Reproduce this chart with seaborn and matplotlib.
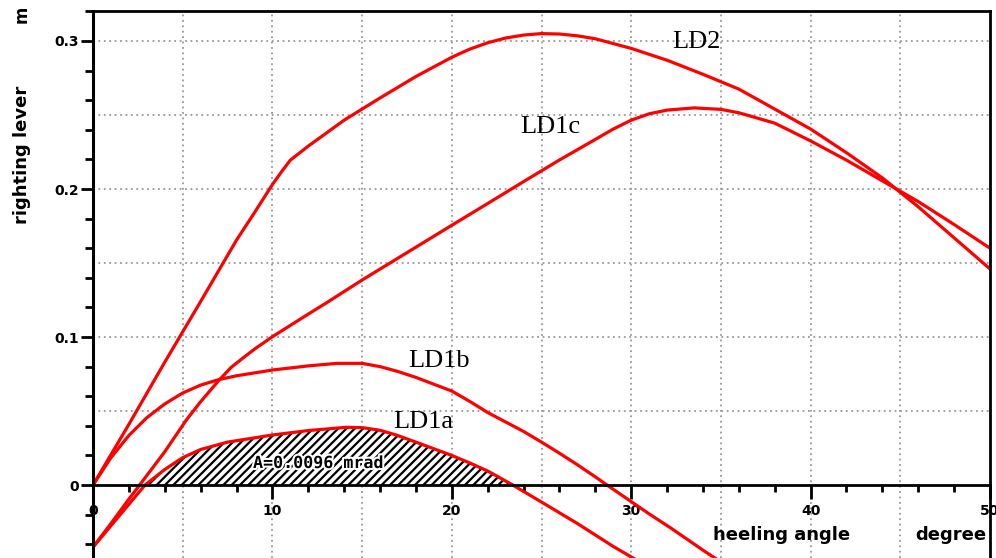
import numpy as np
import pandas as pd
import seaborn as sns
import matplotlib.pyplot as plt
import matplotlib.ticker as mticker
import matplotlib.patheffects as pe

# righting lever curves (heeling angle in degree, lever in m)
ld2_angle = [0, 2, 4, 6, 8, 9, 10, 10.5, 11, 12, 14, 16, 18, 20, 21, 22, 23, 24,
             25, 26, 27, 28, 30, 32, 34, 36, 38, 40, 42, 44, 46, 48, 50]
ld2_lever = [0, 0.041, 0.083, 0.124, 0.1655, 0.184, 0.203, 0.2115, 0.2195, 0.229,
             0.2465, 0.2615, 0.276, 0.289, 0.2945, 0.2988, 0.302, 0.304, 0.305,
             0.3047, 0.3035, 0.3015, 0.295, 0.287, 0.2775, 0.2675, 0.254, 0.2405,
             0.2245, 0.2075, 0.188, 0.167, 0.146]

ld1c_angle = [0, 1, 2, 2.6, 4, 5.2, 6, 7, 7.7, 8.4, 9, 10, 12, 13, 15, 18, 20, 22,
              24, 26, 28, 29, 30, 31, 32, 33.5, 35, 36, 38, 40, 42, 44, 46, 48, 50]
ld1c_lever = [-0.042, -0.026, -0.0095, 0, 0.0225, 0.0439, 0.0563, 0.0705, 0.0795,
              0.0862, 0.0918, 0.1002, 0.1155, 0.123, 0.1385, 0.1607, 0.1755, 0.1902,
              0.205, 0.2196, 0.2335, 0.2405, 0.2465, 0.2508, 0.2533, 0.2548, 0.2538,
              0.2515, 0.2445, 0.2325, 0.2195, 0.2055, 0.1915, 0.176, 0.160]

ld1b_angle = [0, 1, 2, 3, 4, 5, 6, 7, 8, 10, 12, 13.6, 15, 16, 17, 18, 20, 21, 22,
              24, 25, 26, 27, 28, 28.65, 30, 31, 32.2, 34, 35]
ld1b_lever = [0, 0.0185, 0.0335, 0.0455, 0.0548, 0.0622, 0.0675, 0.0712, 0.0738,
              0.0777, 0.0805, 0.0822, 0.0822, 0.080, 0.0767, 0.0727, 0.0635, 0.0565,
              0.049, 0.0362, 0.029, 0.0215, 0.0137, 0.0055, 0, -0.0112, -0.0195,
              -0.029, -0.044, -0.052]

ld1a_angle = [0, 1, 2, 2.9, 4, 5, 6, 7.5, 10, 12, 14.1, 15, 16, 16.9, 18, 19, 20,
              21, 22, 23.4, 25, 27, 29, 30.2]
ld1a_lever = [-0.042, -0.0275, -0.013, 0, 0.0105, 0.0185, 0.024, 0.029, 0.0338,
              0.0368, 0.039, 0.0388, 0.037, 0.0338, 0.029, 0.0245, 0.020, 0.0149,
              0.0095, 0, -0.0115, -0.026, -0.0415, -0.050]

curve_names = ['LD2', 'LD1c', 'LD1b', 'LD1a']
curve_label_pos = [(32.3, 0.2953), (23.8, 0.2378), (17.56, 0.0797), (16.72, 0.0385)]
area_text = 'A=0.0096 mrad'

x_major = [0, 10, 20, 30, 40, 50]
y_major = [0, 0.1, 0.2, 0.3]
y_labels = ['0', '0.1', '0.2', '0.3']

frames = []
for name, a, l in zip(curve_names,
                      [ld2_angle, ld1c_angle, ld1b_angle, ld1a_angle],
                      [ld2_lever, ld1c_lever, ld1b_lever, ld1a_lever]):
    frames.append(pd.DataFrame({'angle': a, 'lever': l, 'curve': name}))
df = pd.concat(frames, ignore_index=True)

sns.set_style('white')
plt.rcParams['font.family'] = ['DejaVu Sans']
plt.rcParams['text.color'] = 'black'
plt.rcParams['xtick.color'] = 'black'
plt.rcParams['ytick.color'] = 'black'
plt.rcParams['hatch.linewidth'] = 1.6

fig = plt.figure(figsize=(9.96, 5.58), dpi=100)
ax = fig.add_axes([93 / 996, 0, 897 / 996, 0.9796])

# grid (dotted grey)
for gx in np.arange(5, 50, 5):
    ax.axvline(gx, color='#999999', ls=(0, (1, 2)), lw=1.3, zorder=0.5)
for gy in np.arange(0.05, 0.32, 0.05):
    ax.axhline(gy, color='#999999', ls=(0, (1, 2)), lw=1.3, zorder=0.5)

# hatched area under LD1a
a1 = np.array(ld1a_angle)
l1 = np.array(ld1a_lever)
ax.fill_between(a1, 0, l1, where=l1 >= 0, interpolate=True, facecolor='white',
                edgecolor='black', hatch='////', linewidth=0, zorder=1)

sns.lineplot(data=df, x='angle', y='lever', units='curve', estimator=None,
             color='#ff0000', lw=2.3, ax=ax, zorder=2, legend=False)

for name, (tx, ty) in zip(curve_names, curve_label_pos):
    ax.text(tx, ty, name, family='Liberation Serif', fontsize=19,
            ha='left', va='baseline', zorder=3)

ax.text(8.92, 0.0115, area_text, family='DejaVu Sans Mono', fontweight='bold',
        fontsize=12, ha='left', va='baseline', zorder=3,
        path_effects=[pe.withStroke(linewidth=3, foreground='white')])

ax.set_xlim(0, 50)
ax.set_ylim(-0.0493, 0.32)

# axes look
ax.spines['bottom'].set_position(('data', 0))
ax.spines['bottom'].set_linewidth(2)
ax.spines['left'].set_linewidth(2.2)
for s in ['top', 'right']:
    ax.spines[s].set_linestyle((0, (3, 1)))
    ax.spines[s].set_linewidth(2)
for s in ax.spines.values():
    s.set_color('black')
    s.set_zorder(4)

ax.set_xticks(x_major, [str(v) for v in x_major], fontweight='bold', fontsize=10)
ax.set_yticks(y_major, y_labels, fontweight='bold', fontsize=10)
ax.xaxis.set_minor_locator(mticker.MultipleLocator(2))
ax.yaxis.set_minor_locator(mticker.MultipleLocator(0.02))
ax.tick_params(bottom=True, left=True, top=False, right=False, which='both')
ax.tick_params(axis='x', which='major', direction='out', length=10, width=2, pad=4)
ax.tick_params(axis='x', which='minor', direction='out', length=5, width=2)
ax.tick_params(axis='y', which='major', direction='out', length=9, width=2, pad=1)
ax.tick_params(axis='y', which='minor', direction='out', length=6, width=2)
ax.set_xlabel('')
ax.set_ylabel('')

ax.text(34.56, -0.0372, 'heeling angle', fontweight='bold', fontsize=13,
        ha='left', va='baseline')
ax.text(45.82, -0.0372, 'degree', fontweight='bold', fontsize=13,
        ha='left', va='baseline', clip_on=True)
fig.text(22 / 996, 1 - 155 / 558, 'righting lever', fontweight='bold',
         fontsize=13, rotation=90, ha='center', va='center')
fig.text(22 / 996, 1 - 14 / 558, 'm', fontweight='bold', fontsize=12,
         rotation=90, ha='center', va='center')

fig.savefig('out.png', dpi=100)
